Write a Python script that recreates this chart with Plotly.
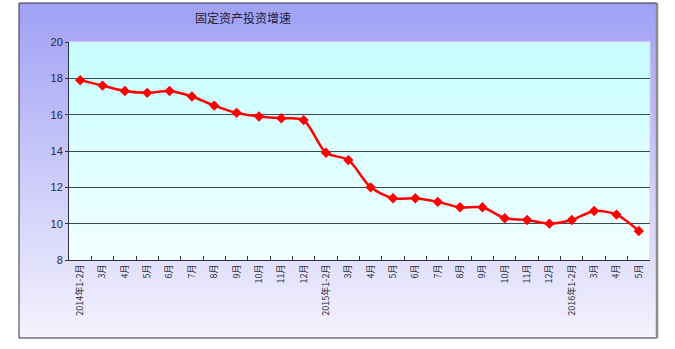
import base64
import plotly.graph_objects as go

W, H = 675, 349

categories = ["2014年1-2月", "3月", "4月", "5月", "6月", "7月", "8月", "9月", "10月", "11月", "12月",
              "2015年1-2月", "3月", "4月", "5月", "6月", "7月", "8月", "9月", "10月", "11月", "12月",
              "2016年1-2月", "3月", "4月", "5月"]
values = [17.9, 17.6, 17.3, 17.2, 17.3, 17.0, 16.5, 16.1, 15.9, 15.8, 15.7,
          13.9, 13.5, 12.0, 11.4, 11.4, 11.2, 10.9, 10.9, 10.3, 10.2, 10.0,
          10.2, 10.7, 10.5, 9.6]
y_ticks = [8, 10, 12, 14, 16, 18, 20]
grid_vals = [10, 12, 14, 16, 18]
title = "固定资产投资增速"

idx = list(range(len(categories)))
bounds = [i - 0.5 for i in range(len(categories) + 1)]

# layout in pixels
PL, PR, PT, PB = 69, 650, 42, 260
FL, FR, FT, FB = 19, 657, 3, 338

def px(x):
    return x / W

def py(y):
    return 1 - y / H

def grad_uri(c1, c2):
    svg = ("<svg xmlns='http://www.w3.org/2000/svg' width='100' height='100' preserveAspectRatio='none'>"
           "<defs><linearGradient id='g' x1='0' y1='0' x2='0' y2='1'>"
           f"<stop offset='0' stop-color='{c1}'/><stop offset='1' stop-color='{c2}'/>"
           "</linearGradient></defs><rect width='100' height='100' fill='url(#g)'/></svg>")
    return "data:image/svg+xml;base64," + base64.b64encode(svg.encode()).decode()

fig = go.Figure()
fig.add_trace(go.Scatter(
    x=idx, y=values, mode="lines+markers",
    line=dict(color="#ff0000", width=2.5, shape="spline", smoothing=0.8),
    marker=dict(symbol="diamond", size=8, color="#ff0000"),
    showlegend=False, hoverinfo="y"))
fig.add_trace(go.Scatter(x=[None], y=[None], xaxis="x2", yaxis="y2",
                         showlegend=False, hoverinfo="skip"))

tick_font = dict(family="Liberation Sans, Arial", size=11, color="#2a2a40")
xdom = [px(PL), px(PR)]
ydom = [py(PB), py(PT)]

fig.update_layout(
    width=W, height=H,
    margin=dict(l=0, r=0, t=0, b=0),
    paper_bgcolor="#ffffff",
    plot_bgcolor="rgba(0,0,0,0)",
    template="none",
    xaxis=dict(domain=xdom, range=[-0.5, len(categories) - 0.5], tickmode="array",
               tickvals=idx, ticktext=categories, tickangle=-90, ticks="",
               showgrid=False, zeroline=False, showline=True, linecolor="#303040",
               linewidth=1, anchor="y", automargin=False,
               tickfont=dict(family="Noto Sans CJK SC", size=9, color="#2a2a40")),
    xaxis2=dict(domain=xdom, range=[-0.5, len(categories) - 0.5], overlaying="x",
                anchor="y2", tickmode="array", tickvals=bounds, ticks="inside",
                ticklen=4, tickcolor="#303040", showticklabels=False,
                showgrid=False, zeroline=False, showline=False, automargin=False),
    yaxis=dict(domain=ydom, range=[8, 20], tickmode="array", tickvals=y_ticks,
               ticks="outside", ticklen=3, tickcolor="#303040", showgrid=False,
               zeroline=False, showline=True, linecolor="#303040", linewidth=1,
               tickfont=tick_font, anchor="x", automargin=False),
    yaxis2=dict(domain=ydom, range=[8, 20], overlaying="y", anchor="x2",
                tickmode="array", tickvals=grid_vals, showticklabels=False,
                showgrid=True, gridcolor="#3c4a50", gridwidth=1, ticks="",
                zeroline=False, showline=False, automargin=False),
    images=[
        dict(source=grad_uri("#a0a0f6", "#f5f3fd"), xref="paper", yref="paper",
             x=px(FL), y=py(FT), sizex=px(FR) - px(FL), sizey=py(FT) - py(FB),
             sizing="stretch", layer="below", xanchor="left", yanchor="top"),
        dict(source=grad_uri("#c6fdff", "#f2ffff"), xref="paper", yref="paper",
             x=px(PL), y=py(PT), sizex=px(PR) - px(PL), sizey=py(PT) - py(PB),
             sizing="stretch", layer="below", xanchor="left", yanchor="top"),
    ],
    shapes=[
        dict(type="rect", xref="paper", yref="paper", x0=px(FL), x1=px(FR),
             y0=py(FB), y1=py(FT), line=dict(color="#303040", width=1), layer="above"),
        dict(type="line", xref="paper", yref="paper", x0=px(FR), x1=px(FR),
             y0=py(FB), y1=py(FT), line=dict(color="#8a8a90", width=2.5), layer="above"),
        dict(type="line", xref="paper", yref="paper", x0=px(PR), x1=px(PR),
             y0=py(PB), y1=py(PT), line=dict(color="#f0c8e0", width=1), layer="below"),
        dict(type="line", xref="paper", yref="paper", x0=px(PL), x1=px(PR),
             y0=py(PT), y1=py(PT), line=dict(color="#f4e4f4", width=1), layer="below"),
    ],
    annotations=[
        dict(text=title, xref="paper", yref="paper", x=px(243), y=py(17),
             showarrow=False, xanchor="center", yanchor="middle",
             font=dict(family="Noto Sans CJK SC", size=12, color="#202030")),
    ],
)

fig.write_html("out.html")
